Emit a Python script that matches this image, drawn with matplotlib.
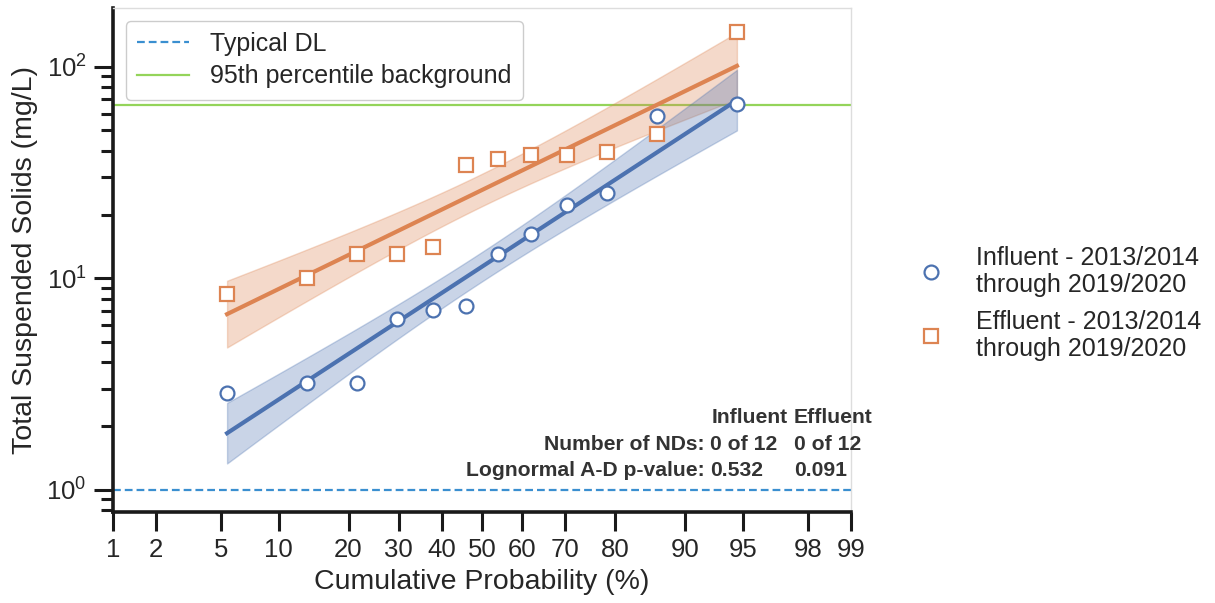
import numpy as np
import matplotlib
matplotlib.use("Agg")
import matplotlib.pyplot as plt
from matplotlib.lines import Line2D
from matplotlib.ticker import FixedLocator, FixedFormatter, NullFormatter, LogLocator
from statistics import NormalDist

plt.rcParams['font.family'] = ['Liberation Sans', 'DejaVu Sans']
plt.rcParams['mathtext.fontset'] = 'custom'
plt.rcParams['mathtext.rm'] = 'Liberation Sans'
plt.rcParams['mathtext.it'] = 'Liberation Sans:italic'

# ---- data -------------------------------------------------------------
plot_pos = [5.4, 13.5, 21.6, 29.7, 37.8, 45.9, 54.1, 62.2, 70.3, 78.4, 86.5, 94.6]
influent_tss = [2.88, 3.2, 3.2, 6.4, 7.1, 7.4, 13.0, 16.1, 22.2, 25.2, 58.4, 66.4]
effluent_tss = [8.4, 10.0, 13.0, 13.0, 14.0, 34.3, 36.5, 38.3, 38.3, 39.4, 47.9, 146.0]
prob_ticks = [1, 2, 5, 10, 20, 30, 40, 50, 60, 70, 80, 90, 95, 98, 99]
typical_dl = 1.0
background_95 = 66.0
influent_label = "Influent - 2013/2014\nthrough 2019/2020"
effluent_label = "Effluent - 2013/2014\nthrough 2019/2020"
stats_header = ["Influent", "Effluent"]
stats_rows = ["Number of NDs:", "Lognormal A-D p-value:"]
stats_influent = ["0 of 12", "0.532"]
stats_effluent = ["0 of 12", "0.091"]

BLUE = '#4c72b0'
ORANGE = '#dd8452'
DL_COLOR = '#3a8fd0'
BG_COLOR = '#94d45a'
TEXT = '#262626'

# ---- probability scale ------------------------------------------------
_nd = NormalDist()
_ppf = np.vectorize(_nd.inv_cdf, otypes=[float])
_cdf = np.vectorize(_nd.cdf, otypes=[float])


def prob_forward(p):
    p = np.clip(np.asarray(p, dtype=float), 1e-6, 100 - 1e-6)
    return _ppf(p / 100.0)


def prob_inverse(z):
    return _cdf(np.asarray(z, dtype=float)) * 100.0


W, H = 1215, 603
fig = plt.figure(figsize=(W / 100, H / 100), dpi=100)
ax = fig.add_axes([113 / W, 1 - 512 / H, (851 - 113) / W, (512 - 8) / H])
ax.set_xscale('function', functions=(prob_forward, prob_inverse))
ax.set_yscale('log')


def fit_band(p, y, n_grid=200):
    """Least-squares lognormal fit in (z, log10 y) with a 95% confidence band."""
    z = prob_forward(p)
    ly = np.log10(np.asarray(y, dtype=float))
    slope, icpt = np.polyfit(z, ly, 1)
    n = len(z)
    resid = ly - (slope * z + icpt)
    s = np.sqrt(np.sum(resid ** 2) / (n - 2))
    zg = np.linspace(z.min(), z.max(), n_grid)
    sxx = np.sum((z - z.mean()) ** 2)
    t = 2.228  # t(0.975, df=10)
    half = t * s * np.sqrt(1.0 / n + (zg - z.mean()) ** 2 / sxx)
    fit = slope * zg + icpt
    return prob_inverse(zg), 10 ** fit, 10 ** (fit - half), 10 ** (fit + half)


for vals, col in [(effluent_tss, ORANGE), (influent_tss, BLUE)]:
    pg, fit, lo, hi = fit_band(plot_pos, vals)
    ax.fill_between(pg, lo, hi, color=col, alpha=0.3, lw=1, zorder=2)
    ax.plot(pg, fit, color=col, lw=3, zorder=3)

dl_line = ax.axhline(typical_dl, ls=(0, (3.5, 1.8)), color=DL_COLOR, lw=1.6, zorder=1,
                     label='Typical DL')
bg_line = ax.axhline(background_95, ls='-', color=BG_COLOR, lw=1.6, zorder=1,
                     label='95th percentile background')

ax.plot(plot_pos, influent_tss, ls='none', marker='o', ms=10, mfc='white', mec=BLUE,
        mew=1.6, zorder=5)
ax.plot(plot_pos, effluent_tss, ls='none', marker='s', ms=9.5, mfc='white', mec=ORANGE,
        mew=1.6, zorder=5)

# axes limits and ticks
ax.set_xlim(1, 99)
ax.set_ylim(10 ** -0.105, 10 ** 2.277)
ax.xaxis.set_major_locator(FixedLocator(prob_ticks))
ax.xaxis.set_major_formatter(FixedFormatter([str(t) for t in prob_ticks]))
ax.xaxis.set_minor_locator(FixedLocator([]))
ax.yaxis.set_major_locator(LogLocator(base=10))
ax.yaxis.set_minor_locator(LogLocator(base=10, subs=np.arange(2, 10)))
ax.yaxis.set_minor_formatter(NullFormatter())

ax.tick_params(axis='both', which='major', length=14, width=2.2, direction='out',
               labelsize=18.5, labelcolor=TEXT, color='#1a1a1a', pad=5)
ax.tick_params(axis='y', which='minor', length=9, width=2.2, color='#1a1a1a')

for side in ['left', 'bottom']:
    ax.spines[side].set_linewidth(2.6)
    ax.spines[side].set_color('#1a1a1a')
for side in ['top', 'right']:
    ax.spines[side].set_linewidth(1.0)
    ax.spines[side].set_color('#dddddd')

ax.set_xlabel('Cumulative Probability (%)', fontsize=20.5, color=TEXT, labelpad=5)
ax.set_ylabel('Total Suspended Solids (mg/L)', fontsize=20.5, color=TEXT, labelpad=6)

leg = ax.legend(handles=[dl_line, bg_line], loc='upper left', fontsize=18,
                frameon=True, fancybox=True, edgecolor='#cccccc', framealpha=1.0,
                handlelength=2.1, handletextpad=0.85, labelspacing=0.35,
                borderpad=0.45)
for t in leg.get_texts():
    t.set_color(TEXT)

# summary statistics block
def fx(x):
    return x / W


def fy(y):
    return 1 - y / H


stat_kw = dict(transform=fig.transFigure, fontsize=15.2, fontweight='bold', color='#333333',
               va='baseline')
fig.text(fx(712), fy(423), stats_header[0], ha='left', **stat_kw)
fig.text(fx(794), fy(423), stats_header[1], ha='left', **stat_kw)
for i, row in enumerate(stats_rows):
    yb = 450 + 26 * i
    fig.text(fx(705), fy(yb), row, ha='right', **stat_kw)
    fig.text(fx(710), fy(yb), stats_influent[i], ha='left', **stat_kw)
    fig.text(fx(794), fy(yb), stats_effluent[i], ha='left', **stat_kw)

# series legend outside the axes
h_in = Line2D([], [], ls='none', marker='o', ms=10, mfc='white', mec=BLUE, mew=1.6)
h_ef = Line2D([], [], ls='none', marker='s', ms=9.5, mfc='white', mec=ORANGE, mew=1.6)
leg2 = fig.legend(handles=[h_in, h_ef], labels=[influent_label, effluent_label],
                  loc='upper left', bbox_to_anchor=(918 / W, fy(246)), fontsize=18,
                  frameon=False, borderpad=0, borderaxespad=0, handlelength=1.0,
                  handletextpad=1.3, labelspacing=0.5)
for t in leg2.get_texts():
    t.set_color(TEXT)
    t.set_linespacing(1.17)

fig.savefig('out.png', dpi=100)
